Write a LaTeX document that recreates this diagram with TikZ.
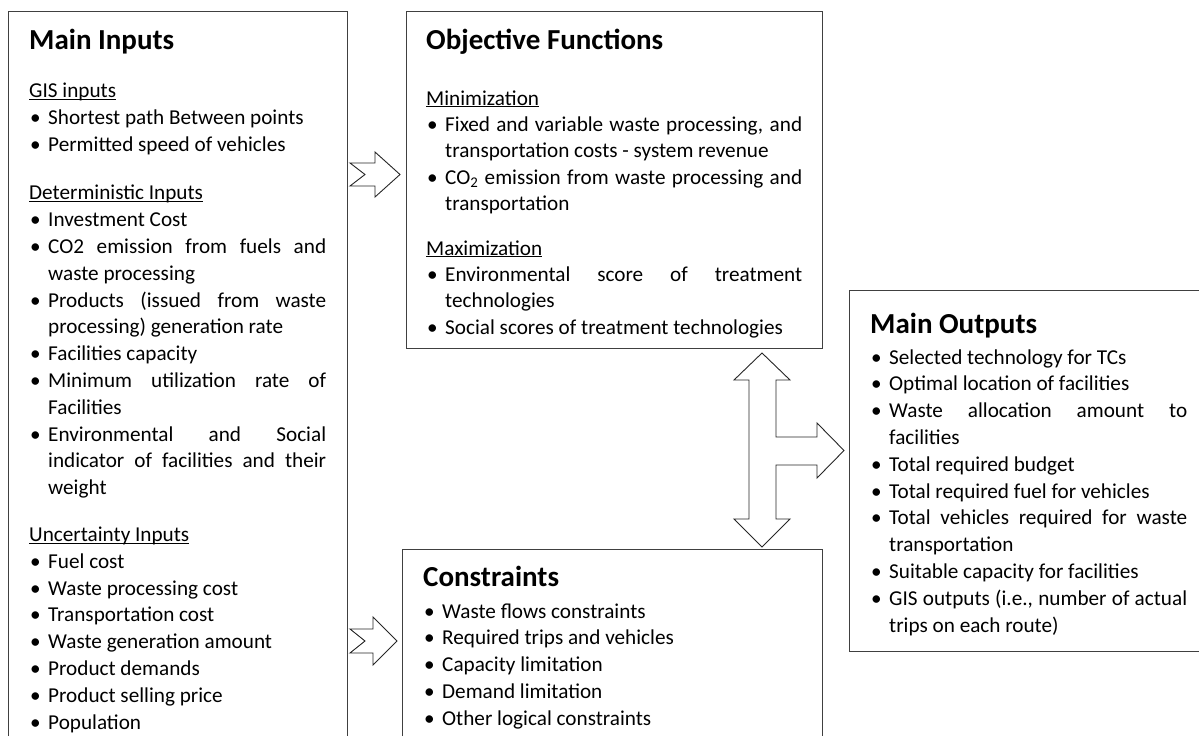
\documentclass[tikz,border=0pt]{standalone}
\usepackage{fontspec}
\setmainfont{Carlito}
\usepackage{tikz}

\tolerance=10000
\hyphenpenalty=10000
\exhyphenpenalty=10000

\newcommand{\firstitem}{\hangindent=19pt\hangafter=1\noindent\hbox to 19pt{\hskip1pt\textbullet\hfil}}
\newcommand{\bitem}{\par\firstitem}
\newcommand{\subhead}[2][22pt]{\par\vspace{#1}\noindent\underline{\smash{#2}}}
\newcommand{\firsthead}[1]{\noindent\underline{\smash{#1}}}

\tikzset{
	boxline/.style={draw=black!75,line width=1pt},
	blockarrow/.style={draw=black!85,line width=0.9pt,fill=white,line join=miter},
	boxtitle/.style={anchor=base west,inner sep=0pt,font=\fontsize{29}{35}\selectfont\bfseries},
	boxbody/.style={anchor=base west,inner sep=0pt,align=justify,font=\fontsize{21.2}{26.8}\selectfont},
}

\begin{document}
\begin{tikzpicture}[x=1pt,y=-1pt]
	\useasboundingbox (0,0) rectangle (1199,736);
	% boxes
	\draw[boxline] (8,736) -- (8,11) -- (347,11) -- (347,736);
	\draw[boxline] (406,11) rectangle (822,348);
	\draw[boxline] (402,736) -- (402,549) -- (822,549) -- (822,736);
	\draw[boxline] (1199,290) -- (849,290) -- (849,651) -- (1199,651);
	% main inputs
	\node (intitle) [boxtitle] at (29,49) {Main Inputs};
	\node (inbody) [boxbody,text width=297pt] at (29,97.5) {%
		\firsthead{GIS inputs}
		\bitem Shortest path Between points
		\bitem Permitted speed of vehicles
		\subhead{Deterministic Inputs}
		\bitem Investment Cost
		\bitem CO2 emission from fuels and waste processing
		\bitem Products (issued from waste processing) generation rate
		\bitem Facilities capacity
		\bitem Minimum utilization rate of Facilities
		\bitem Environmental and Social indicator of facilities and their weight
		\subhead[20pt]{Uncertainty Inputs}
		\bitem Fuel cost
		\bitem Waste processing cost
		\bitem Transportation cost
		\bitem Waste generation amount
		\bitem Product demands
		\bitem Product selling price
		\bitem Population\par};
	% objective functions
	\node (objtitle) [boxtitle] at (426,49) {Objective Functions};
	\node (objbody) [boxbody,text width=376pt,font=\fontsize{21.2}{26.4}\selectfont] at (426,105) {%
		\firsthead{Minimization}
		\bitem Fixed and variable waste processing, and transportation costs - system revenue
		\bitem CO\textsubscript{2} emission from waste processing and transportation
		\subhead[18pt]{Maximization}
		\bitem Environmental score of treatment technologies
		\bitem Social scores of treatment technologies\par};
	% constraints
	\node (contitle) [boxtitle] at (423,586) {Constraints};
	\node (conbody) [boxbody,text width=376pt] at (423,618) {%
		\firstitem Waste flows constraints
		\bitem Required trips and vehicles
		\bitem Capacity limitation
		\bitem Demand limitation
		\bitem Other logical constraints\par};
	% main outputs
	\node (outtitle) [boxtitle] at (870,333) {Main Outputs};
	\node (outbody) [boxbody,text width=317pt] at (870,364) {%
		\firstitem Selected technology for TCs
		\bitem Optimal location of facilities
		\bitem Waste allocation amount to facilities
		\bitem Total required budget
		\bitem Total required fuel for vehicles
		\bitem Total vehicles required for waste transportation
		\bitem Suitable capacity for facilities
		\bitem GIS outputs (i.e., number of actual trips on each route)\par};
	% block arrows
	\draw[blockarrow] (350,163) -- (375,163) -- (375,152) -- (400,174.5) -- (375,197) -- (375,186) -- (350,186) -- (365,174.5) -- cycle;
	\draw[blockarrow] (350,629) -- (373,629) -- (373,617) -- (397,641) -- (373,665) -- (373,653) -- (350,653) -- (365,641) -- cycle;
	\draw[blockarrow] (762,353) -- (790,380) -- (776,380) -- (776,437) -- (817,437) -- (817,423) -- (844,450.5) -- (817,478) -- (817,465) -- (776,465) -- (776,519) -- (790,519) -- (762,547) -- (734,519) -- (749,519) -- (749,380) -- (734,380) -- cycle;
\end{tikzpicture}
\end{document}
